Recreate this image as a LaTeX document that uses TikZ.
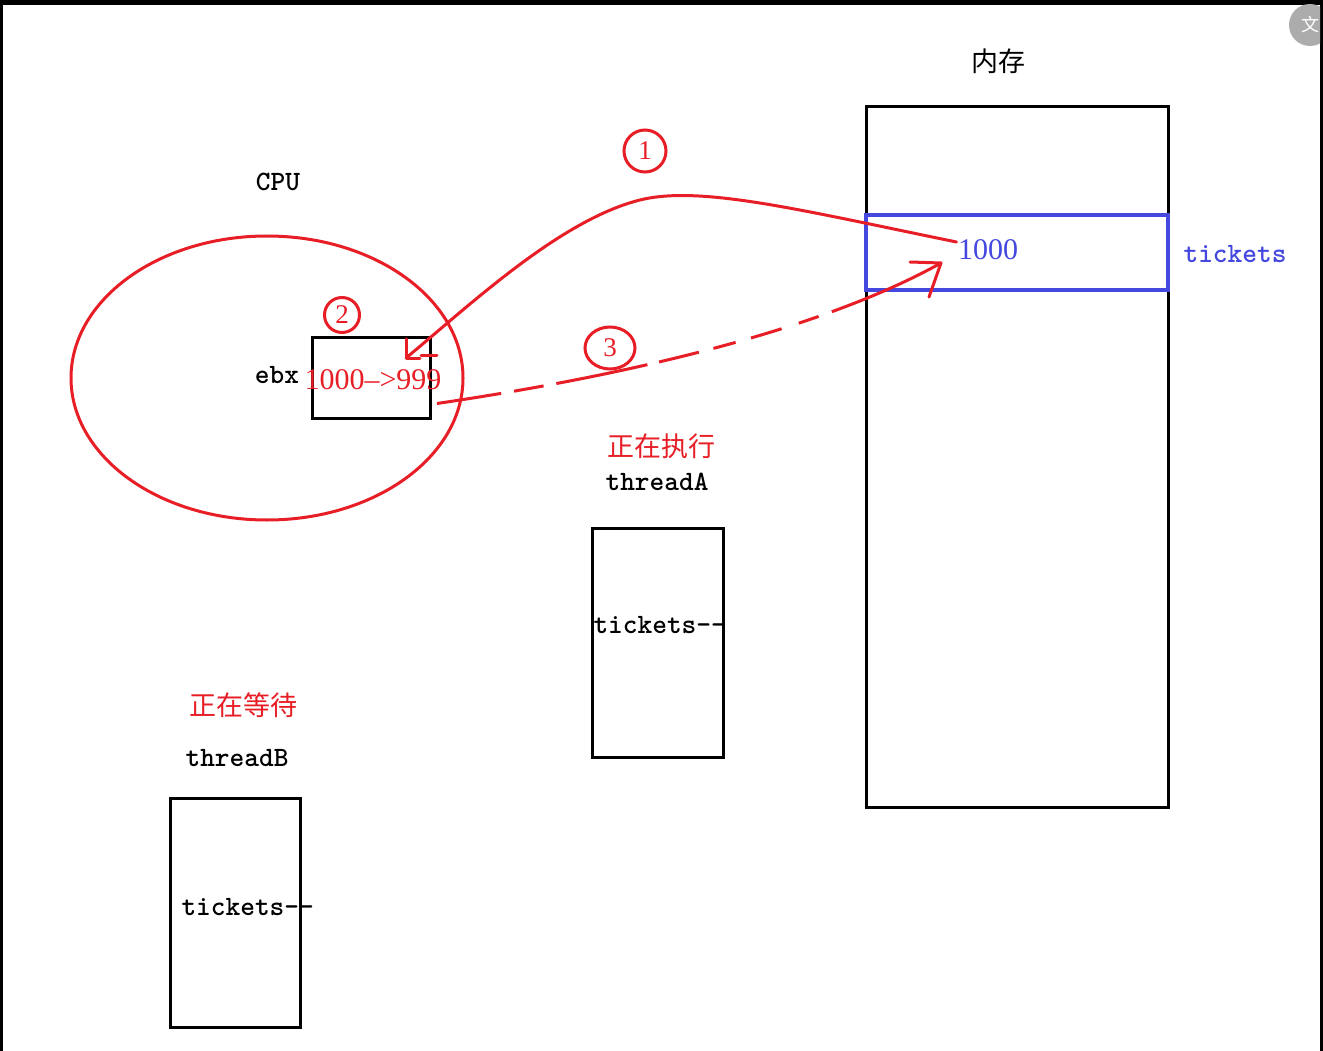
\documentclass[tikz,border=0pt]{standalone}
\usepackage{fontspec}
\setmainfont{Liberation Serif}
\newfontfamily\cjk{Noto Sans CJK SC}
\newfontfamily\codefont{lmmonolt10-bold.otf}
\usepackage{tikz}
\usetikzlibrary{shapes.geometric,positioning}
\usepackage{xcolor}
\definecolor{inkred}{RGB}{232,30,38}
\definecolor{inkblue}{RGB}{68,72,222}

\begin{document}
\begin{tikzpicture}[x=1pt, y=-1pt, line width=3pt]
    % Define styles for the nodes
    \tikzstyle{box} = [draw, rectangle, inner sep=0pt, outer sep=0pt]
    \tikzstyle{code} = [font=\codefont\fontsize{28}{30}\selectfont, inner sep=0pt]
    \tikzstyle{han} = [font=\cjk\fontsize{27}{30}\selectfont, inner sep=0pt]
    \tikzstyle{num} = [font=\fontsize{30}{32}\selectfont, inner sep=0pt]
    \tikzstyle{step mark} = [draw=inkred, line width=3pt, inner sep=0pt, text=inkred, font=\fontsize{27}{28}\selectfont]
    \tikzstyle{pen} = [draw=inkred, line width=3pt, line cap=round, line join=round]

    \useasboundingbox (0,0) rectangle (1323,1051);
    \fill[white] (0,0) rectangle (1323,1051);

    % Screen frame
    \fill[black] (0,0) rectangle (1323,5);
    \fill[black] (0,0) rectangle (3,1051);
    \fill[black] (1320,0) rectangle (1323,1051);
    \begin{scope}
        \clip (3,5) rectangle (1320,1051);
        \fill[gray!65] (1310,25) circle (21);
        \node[text=white, font=\cjk\fontsize{18}{20}\selectfont] at (1310,25) {文};
    \end{scope}

    % Memory
    \node[han] (memlbl) at (998,61) {内存};
    \node[box, minimum width=302pt, minimum height=700pt] (mem) at (1017,457) {};
    \node[box, draw=inkblue, line width=3.5pt, minimum width=302pt, minimum height=75pt] (band) at (1017,252.5) {};
    \node[num, text=inkblue] (val) at (988,250) {1000};
    \node[code, text=inkblue] (tklbl) at (1235,254) {tickets};

    % CPU
    \node[code] (cpulbl) at (278,182) {CPU};
    \node[ellipse, draw=inkred, minimum width=392pt, minimum height=284pt, inner sep=0pt] (cpu) at (267,378) {};
    \node[box, minimum width=118pt, minimum height=81pt] (ebxbox) at (371,377.5) {};
    \node[code] (ebxlbl) at (277,375) {ebx};
    \node[num, text=inkred] (ebxval) at (373,380) {1000–>999};

    % Steps
    \node[step mark, circle, minimum size=42pt] (one) at (645,151) {1};
    \node[step mark, circle, minimum size=35pt] (two) at (342,315) {2};
    \node[step mark, ellipse, minimum width=50pt, minimum height=42pt] (three) at (610,348) {3};

    % Threads
    \node[han, text=inkred] (runlbl) at (661,446) {正在执行};
    \node[code] (thA) at (657,482) {threadA};
    \node[box, minimum width=131pt, minimum height=229pt] (boxA) at (657.5,642.5) {};
    \node[code, anchor=west] (decA) at (592,625) {tickets--};

    \node[han, text=inkred] (waitlbl) at (243,705) {正在等待};
    \node[code] (thB) at (237,758) {threadB};
    \node[box, minimum width=130pt, minimum height=229pt] (boxB) at (235,912.5) {};
    \node[code, anchor=west] (decB) at (180,907) {tickets--};

    % Hand drawn arrows
    \coordinate (tip1) at (406,358);
    \coordinate (tip3) at (941,263);
    \draw[pen] ([yshift=8pt]val.west) .. controls (800,210) and (700,185) .. (640,200)
        .. controls (560,220) and (470,305) .. (tip1);
    \draw[pen] (406,339) -- (tip1) -- (420,358);
    \draw[pen] (421,355) -- (437,355);

    \draw[pen, line cap=butt, dash pattern=on 65pt off 13pt on 30pt off 13pt on 93pt off 12pt on 41pt off 15pt on 23pt off 16pt on 32pt off 18pt on 21pt off 14pt on 300pt off 0pt]
        ([xshift=7pt,yshift=-26pt]ebxbox.east) .. controls (650,372) and (830,325) .. (tip3);
    \draw[pen] (910,262) -- (tip3) -- (929,297);
\end{tikzpicture}
\end{document}
